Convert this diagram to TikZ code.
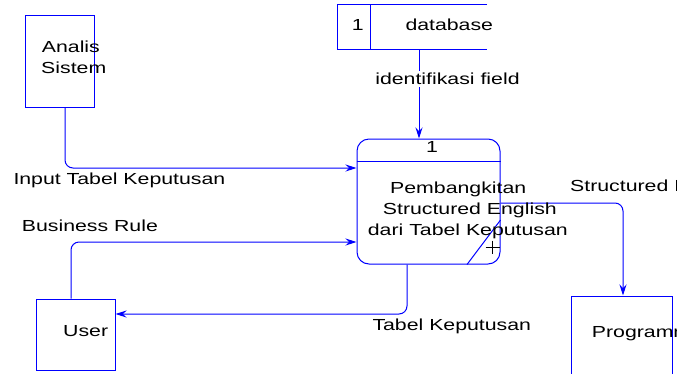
\documentclass[tikz,border=0pt]{standalone}
\usepackage{fontspec}
\setmainfont{Liberation Sans}[FakeStretch=1.33]
\usetikzlibrary{arrows.meta,calc}
\begin{document}
\begin{tikzpicture}[x=1pt,y=-1pt,
  every node/.style={font=\fontsize{16}{19}\selectfont},
  ent/.style={draw=blue,line width=1pt,inner sep=0pt},
  lbl/.style={anchor=base west,inner sep=0pt,text=black},
  flow/.style={draw=blue,line width=1pt,rounded corners=8pt,-{Stealth[length=11pt,width=7pt]}},
  edge/.style={draw=blue,line width=1pt}]
\clip (0,0) rectangle (677,373);
\fill[white] (0,0) rectangle (677,373);
% entities
\node[ent,minimum width=69pt,minimum height=92pt] (analis) at (59.5,61) {};
\node[ent,minimum width=79pt,minimum height=71pt] (user) at (75.5,334.5) {};
\node[ent,minimum width=101pt,minimum height=110pt] (prog) at (621.5,351) {};
% data store
\node[minimum width=149pt,minimum height=44pt,inner sep=0pt] (db) at (412.5,27) {};
\draw[edge] (db.north east) -- (db.north west) -- (db.south west) -- (db.south east);
\draw[edge] ([xshift=33pt]db.north west) -- ([xshift=33pt]db.south west);
% process
\node[ent,rounded corners=12pt,minimum width=143pt,minimum height=125pt] (proc) at (428.5,201.5) {};
\draw[edge] ([yshift=-23pt]proc.north west) -- ([yshift=-23pt]proc.north east);
\draw[edge] ([yshift=-18.5pt]proc.east) -- ([xshift=38.5pt]proc.south);
\draw[black,line width=0.7pt] (485.5,247.7) -- (500,247.7) (492,240.7) -- (492,254);
% flows
\draw[flow] ([xshift=-9.5pt]proc.north |- db.south) -- ([xshift=-9.5pt]proc.north);
\node[fill=white,inner sep=2pt,text=black] (idf) at (447.5,79) {identifikasi field};
\draw[flow] ([xshift=5.5pt]analis.south) |- ([yshift=33.5pt]proc.west);
\draw[flow] ([xshift=-4.5pt]user.north) |- ([yshift=-40.5pt]proc.west);
\draw[flow] ([xshift=-21.5pt]proc.south) |- ([yshift=20.5pt]user.east);
\draw[flow] ([yshift=-1.5pt]proc.east) -| ([xshift=1.5pt]prog.north);
% texts
\node[lbl] (t1) at (41.7,52.3) {Analis};
\node[lbl] (t2) at (41,73.3) {Sistem};
\node[lbl] (t3) at (351.7,30) {1};
\node[lbl] (t4) at (405.3,30) {database};
\node[lbl] (t5) at (426,152.3) {1};
\node[lbl] (t6) at (390,193.3) {Pembangkitan};
\node[lbl] (t7) at (382.7,214.3) {Structured English};
\node[lbl] (t8) at (367.7,235) {dari Tabel Keputusan};
\node[lbl] (t9) at (570,191.7) {Structured English};
\node[lbl] (t10) at (13.3,184.3) {Input Tabel Keputusan};
\node[lbl] (t11) at (21.7,231) {Business Rule};
\node[lbl] (t12) at (63,336) {User};
\node[lbl] (t13) at (372.3,330) {Tabel Keputusan};
\node[lbl] (t14) at (591.7,337.3) {Programmer};
\end{tikzpicture}
\end{document}
